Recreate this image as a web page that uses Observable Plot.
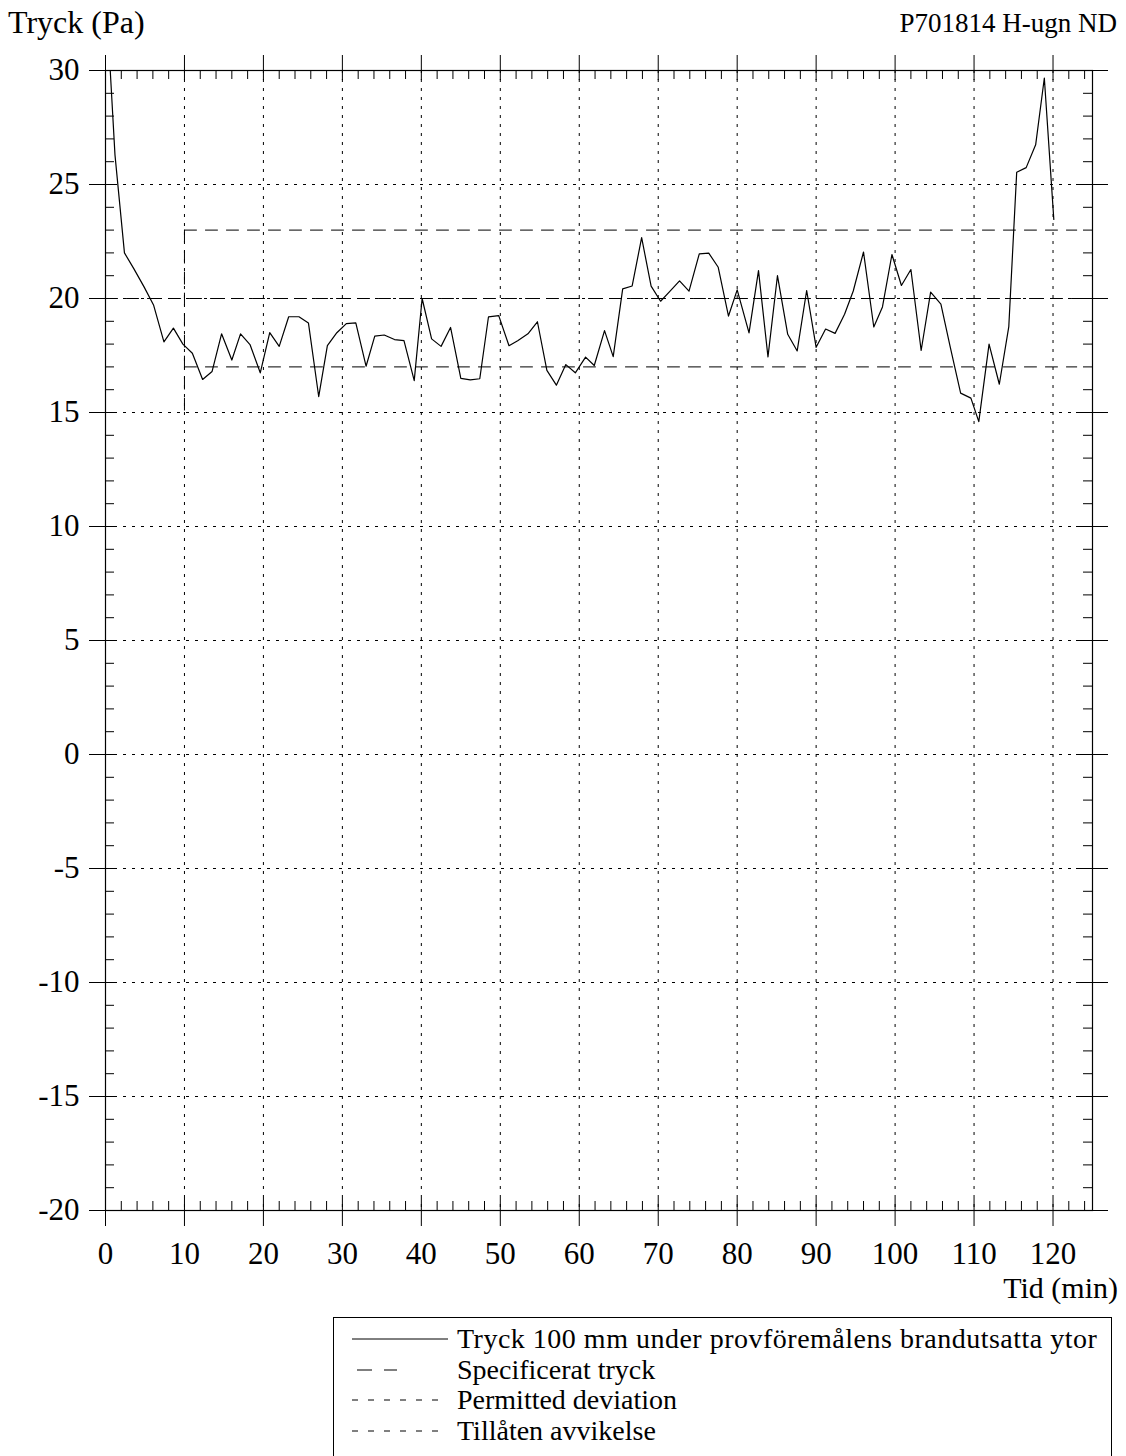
<!DOCTYPE html>
<html>
<head>
<meta charset="utf-8">
<script src="https://cdn.jsdelivr.net/npm/d3@7"></script>
<script src="https://cdn.jsdelivr.net/npm/@observablehq/plot@0.6"></script>
<style>
  html, body { margin: 0; padding: 0; background: #fff; }
  #wrap { position: relative; width: 1126px; height: 1456px; overflow: hidden; background: #fff; font-family: "Liberation Serif", "DejaVu Serif", serif; color: #000; }
  .t { position: absolute; white-space: nowrap; line-height: 1; z-index: 2; }
  #chart { position: absolute; left: 0; top: 0; z-index: 1; }
  #chart svg text { font-family: "Liberation Serif", serif !important; }
  #legend { position: absolute; left: 333px; top: 1317px; width: 779px; height: 160px; border: 1.5px solid #000; box-sizing: border-box; z-index: 2; background: #fff; }
  .row { position: absolute; left: 0; height: 30px; display: flex; align-items: center; }
  .row span { font-size: 28px; line-height: 1; }
</style>
</head>
<body>
<div id="wrap">
  <div id="chart"></div>
  <div class="t" style="left:8px; top:6px; font-size:32px;">Tryck (Pa)</div>
  <div class="t" style="right:9px; top:10px; font-size:27px;">P701814 H-ugn ND</div>
  <div class="t" style="right:8px; top:1273px; font-size:30px;">Tid (min)</div>
  <div id="legend"></div>
</div>
<script>
// ---- data ----
const time = [0.6, 1.2, 2.4, 3.6, 4.9, 6.1, 7.4, 8.6, 9.8, 11.0, 12.3, 13.5, 14.7, 16.0, 17.1, 18.3, 19.6, 20.8, 22.0, 23.2,
  24.5, 25.7, 27.0, 28.1, 29.3, 30.5, 31.7, 33.0, 34.1, 35.3, 36.6, 37.8, 39.1, 40.1, 41.3, 42.5, 43.7, 45.0, 46.2, 47.4,
  48.5, 49.8, 51.1, 52.2, 53.5, 54.7, 55.9, 57.1, 58.3, 59.5, 60.8, 61.9, 63.2, 64.3, 65.5, 66.7, 67.9, 69.1, 70.3, 71.5,
  72.7, 73.9, 75.2, 76.4, 77.6, 78.9, 80.0, 81.5, 82.7, 83.9, 85.1, 86.4, 87.6, 88.8, 90.0, 91.2, 92.4, 93.6, 94.7, 96.0,
  97.3, 98.4, 99.6, 100.8, 102.0, 103.3, 104.5, 105.8, 107.0, 108.3, 109.6, 110.6, 111.9, 113.2, 114.4, 115.4, 116.6, 117.8, 118.9, 120.1];
const pressure = [30.0, 26.3, 22.0, 21.3, 20.5, 19.7, 18.1, 18.7, 18.0, 17.6, 16.45, 16.8, 18.45, 17.3, 18.45, 17.98, 16.74, 18.5, 17.9, 19.2,
  19.2, 18.93, 15.7, 17.93, 18.5, 18.9, 18.93, 17.03, 18.35, 18.4, 18.2, 18.15, 16.4, 20.0, 18.23, 17.9, 18.73, 16.5, 16.43, 16.48,
  19.19, 19.25, 17.93, 18.15, 18.45, 18.98, 16.85, 16.2, 17.1, 16.74, 17.43, 17.06, 18.59, 17.45, 20.42, 20.55, 22.67, 20.54, 19.88, 20.32,
  20.77, 20.32, 21.96, 21.99, 21.37, 19.23, 20.38, 18.49, 21.22, 17.44, 21.0, 18.43, 17.7, 20.35, 17.86, 18.66, 18.47, 19.31, 20.33, 22.04,
  18.75, 19.63, 21.93, 20.57, 21.27, 17.72, 20.28, 19.75, 17.85, 15.85, 15.63, 14.6, 18.0, 16.24, 18.77, 25.54, 25.74, 26.74, 29.67, 23.47];

// specified pressure and permitted deviation lines
const specTime = [0, 123];
const specPressure = [20, 20];
const devTime = [10, 123];
const devUpper = [23, 23];
const devLower = [17, 17];
const devStepTime = [10, 10];
const devStepPressure = [23, 15];

// axis ticks
const xMajor = [0, 10, 20, 30, 40, 50, 60, 70, 80, 90, 100, 110, 120];
const xGrid = [10, 20, 30, 40, 50, 60, 70, 80, 90, 100, 110, 120];
const xMinor = d3.range(0, 125, 2).filter(d => d % 10 !== 0);
const yMajor = [-20, -15, -10, -5, 0, 5, 10, 15, 20, 25, 30];
const yGrid = [-15, -10, -5, 0, 5, 10, 15, 20, 25];
const yMinor = d3.range(-20, 31, 1).filter(d => d % 5 !== 0);

const legendLabels = [
  "Tryck 100 mm under provföremålens brandutsatta ytor",
  "Specificerat tryck",
  "Permitted deviation",
  "Tillåten avvikelse"
];

// ---- chart ----
const W = 1126, H = 1300;
const mL = 105, mR = 34, mT = 70, mB = 90;
const iW = W - mL - mR, iH = H - mT - mB;

const series = time.map((t, i) => ({t, v: pressure[i]}));
const spec = specTime.map((t, i) => ({t, v: specPressure[i]}));
const up = devTime.map((t, i) => ({t, v: devUpper[i]}));
const lo = devTime.map((t, i) => ({t, v: devLower[i]}));
const step = devStepTime.map((t, i) => ({t, v: devStepPressure[i]}));

const grid = "3,6";
const longDash = "12,9";
const serif = "'Liberation Serif', serif";

const chart = Plot.plot({
  width: W, height: H,
  marginLeft: mL, marginRight: mR, marginTop: mT, marginBottom: mB,
  style: {fontFamily: serif, fontSize: "31px", background: "transparent", color: "#000"},
  x: {domain: [0, 125]},
  y: {domain: [-20, 30]},
  marks: [
    // grid
    Plot.ruleX(xGrid, {stroke: "#000", strokeWidth: 1, strokeDasharray: grid}),
    Plot.ruleY(yGrid, {stroke: "#000", strokeWidth: 1, strokeDasharray: grid}),
    // specified & deviation
    Plot.line(spec, {x: "t", y: "v", stroke: "#000", strokeWidth: 1, strokeDasharray: longDash}),
    Plot.line(up, {x: "t", y: "v", stroke: "#000", strokeWidth: 1, strokeDasharray: longDash}),
    Plot.line(lo, {x: "t", y: "v", stroke: "#000", strokeWidth: 1, strokeDasharray: longDash}),
    Plot.line(step, {x: "t", y: "v", stroke: "#000", strokeWidth: 1, strokeDasharray: longDash}),
    // minor ticks
    Plot.ruleX(xMinor, {stroke: "#000", insetBottom: iH - 9}),
    Plot.ruleX(xMinor, {stroke: "#000", insetTop: iH - 9}),
    Plot.ruleY(yMinor, {stroke: "#000", insetRight: iW - 9}),
    Plot.ruleY(yMinor, {stroke: "#000", insetLeft: iW - 9}),
    // major ticks (crossing the frame)
    Plot.ruleX(xMajor, {stroke: "#000", insetTop: -15, insetBottom: iH - 10}),
    Plot.ruleX(xMajor, {stroke: "#000", insetBottom: -16, insetTop: iH - 12}),
    Plot.ruleY(yMajor, {stroke: "#000", insetLeft: -16, insetRight: iW - 11}),
    Plot.ruleY(yMajor, {stroke: "#000", insetRight: -16, insetLeft: iW - 16}),
    Plot.frame({stroke: "#000", strokeWidth: 1.2}),
    // measured pressure
    Plot.line(series, {x: "t", y: "v", stroke: "#000", strokeWidth: 1.2}),
    // tick labels
    Plot.axisX(xMajor, {anchor: "bottom", tickSize: 0, tickPadding: 31, tickFormat: d => String(d), label: null, fontSize: 31, fontFamily: serif}),
    Plot.axisY(yMajor, {anchor: "left", tickSize: 0, tickPadding: 26, tickFormat: d => String(d), label: null, fontSize: 31, fontFamily: serif})
  ]
});
document.getElementById("chart").appendChild(chart);

// ---- legend ----
const legend = document.getElementById("legend");
const styles = [
  {dash: null, x1: 18, x2: 114},
  {dash: "15,12", x1: 23, x2: 63},
  {dash: "6,10", x1: 18, x2: 114},
  {dash: "6,10", x1: 18, x2: 114}
];
legendLabels.forEach((lab, i) => {
  const row = document.createElement("div");
  row.className = "row";
  row.style.top = (6 + i * 30.7) + "px";
  const s = styles[i];
  const extra = i === 0 ? "letter-spacing:0.5px;" : "";
  row.innerHTML = `<svg width="115" height="10" style="margin-right:8px;overflow:visible"><line x1="${s.x1}" x2="${s.x2}" y1="5" y2="5" stroke="#000" stroke-width="1" ${s.dash ? `stroke-dasharray="${s.dash}"` : ""}/></svg><span style="${extra}">${lab}</span>`;
  legend.appendChild(row);
});
</script>
</body>
</html>
